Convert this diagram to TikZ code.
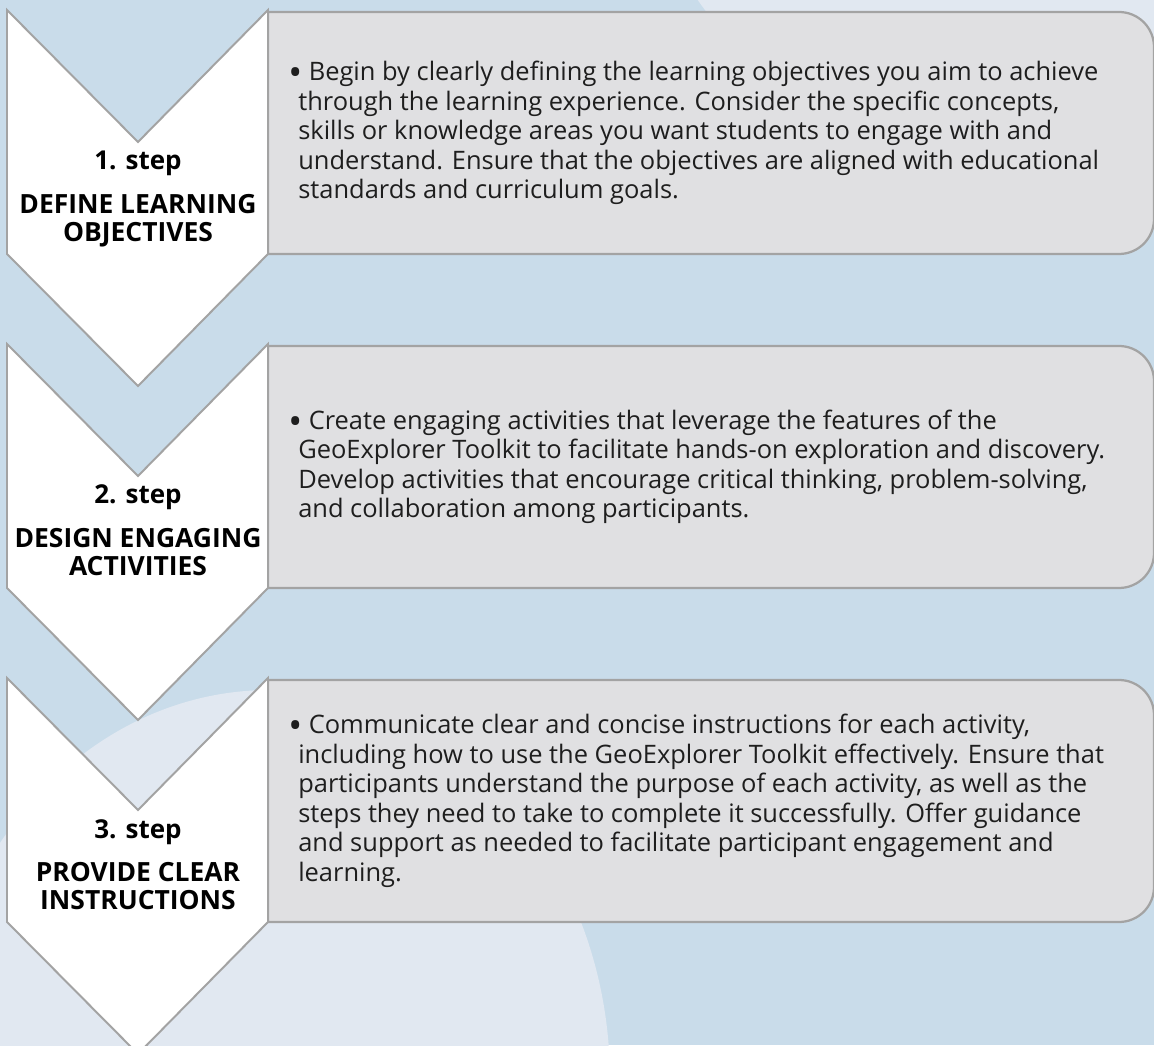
\documentclass[tikz,border=0pt]{standalone}
\usepackage{fontspec}
\setmainfont{Open Sans}
\usetikzlibrary{positioning}
\definecolor{bgblue}{HTML}{C9DCEA}
\definecolor{bglight}{HTML}{E1E8F1}
\definecolor{boxgray}{HTML}{E0E0E2}
\definecolor{linegray}{HTML}{A3A3A3}
\definecolor{inkgray}{HTML}{1E1E1E}
\newcommand{\bigdot}{\raisebox{-0.2em}{\scalebox{1.45}{\textbullet}}}

\begin{document}
\begin{tikzpicture}[x=0.25mm,y=0.25mm,
    chev/.style={fill=white,draw=linegray,line width=1.4pt,line join=miter},
    infobox/.style={fill=boxgray,draw=linegray,line width=1.6pt},
    steplbl/.style={inner sep=0pt,font=\fontsize{18.5}{20}\selectfont\bfseries},
    steptitle/.style={inner sep=0pt,align=center,font=\fontsize{18.8}{20.5}\selectfont\bfseries},
    bodytxt/.style={inner sep=0pt,align=left,text=inkgray,font=\fontsize{18.1}{21}\selectfont}]
	%%%%% BACKGROUND %%%%%
	\useasboundingbox (0,0) rectangle (1154,1045);
	\begin{scope}
		\clip (0,0) rectangle (1154,1045);
		\fill[bgblue] (0,0) rectangle (1154,1045);
		\fill[bglight] (270,-35) ellipse [x radius=340, y radius=390];
		\fill[bglight] (985,1245) circle (350);
	\end{scope}
	
	%%%%% BOXES %%%%%
	\draw[infobox] (268,1033) -- (1119,1033) arc[start angle=90,end angle=0,radius=35] -- (1154,826) arc[start angle=0,end angle=-90,radius=35] -- (268,791) -- cycle;
	\draw[infobox] (268,699) -- (1119,699) arc[start angle=90,end angle=0,radius=35] -- (1154,492) arc[start angle=0,end angle=-90,radius=35] -- (268,457) -- cycle;
	\draw[infobox] (268,365) -- (1119,365) arc[start angle=90,end angle=0,radius=35] -- (1154,158) arc[start angle=0,end angle=-90,radius=35] -- (268,123) -- cycle;
	
	%%%%% CHEVRONS %%%%%
	\draw[chev] (7,1035) -- (138,903) -- (268,1035) -- (268,791) -- (138,659) -- (7,791) -- cycle;
	\draw[chev] (7,701) -- (138,569) -- (268,701) -- (268,457) -- (138,325) -- (7,457) -- cycle;
	\draw[chev] (7,367) -- (138,235) -- (268,367) -- (268,123) -- (138,-9) -- (7,123) -- cycle;
	
	%%%%% STEP 1 %%%%%
	\node[steplbl,anchor=base] (s1) at (138,875) {1. step};
	\node[steptitle,below=4.3mm of s1] (t1) {DEFINE LEARNING\\OBJECTIVES};
	\node[bodytxt,anchor=west] (d1) at (298,912) {\hspace*{-2.5mm}\bigdot\ Begin by clearly defining the learning objectives you aim to achieve\\
		through the learning experience. Consider the specific concepts,\\
		skills or knowledge areas you want students to engage with and\\
		understand. Ensure that the objectives are aligned with educational\\
		standards and curriculum goals.};
	
	%%%%% STEP 2 %%%%%
	\node[steplbl,anchor=base] (s2) at (138,541) {2. step};
	\node[steptitle,below=4.3mm of s2] (t2) {DESIGN ENGAGING\\ACTIVITIES};
	\node[bodytxt,anchor=west] (d2) at (298,578) {\hspace*{-2.5mm}\bigdot\ Create engaging activities that leverage the features of the\\
		GeoExplorer Toolkit to facilitate hands-on exploration and discovery.\\
		Develop activities that encourage critical thinking, problem-solving,\\
		and collaboration among participants.};
	
	%%%%% STEP 3 %%%%%
	\node[steplbl,anchor=base] (s3) at (138,207) {3. step};
	\node[steptitle,below=4.3mm of s3] (t3) {PROVIDE CLEAR\\INSTRUCTIONS};
	\node[bodytxt,anchor=west] (d3) at (298,244) {\hspace*{-2.5mm}\bigdot\ Communicate clear and concise instructions for each activity,\\
		including how to use the GeoExplorer Toolkit effectively. Ensure that\\
		participants understand the purpose of each activity, as well as the\\
		steps they need to take to complete it successfully. Offer guidance\\
		and support as needed to facilitate participant engagement and\\
		learning.};
\end{tikzpicture}
\end{document}
